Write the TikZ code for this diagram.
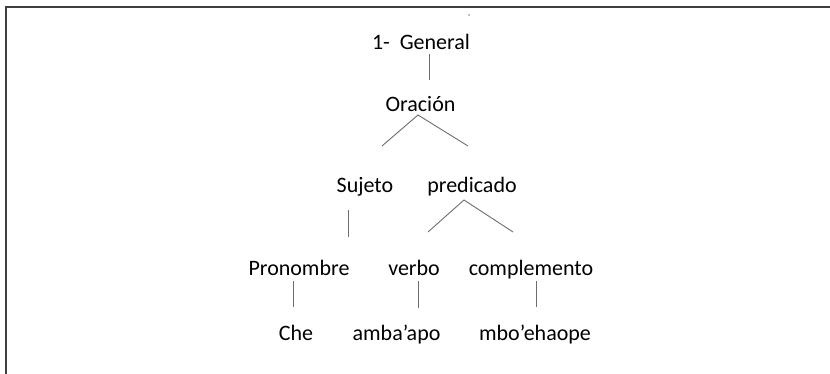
\documentclass[tikz,border=0pt]{standalone}
\usepackage{fontspec}
\setmainfont{Carlito}
\usepackage{tikz}
\usetikzlibrary{calc,positioning}
\newfontfamily\treefont{Carlito}

\begin{document}
\begin{tikzpicture}[x=1pt,y=-1pt,
  word/.style={anchor=base,inner sep=0pt,font=\treefont\fontsize{22}{26}\selectfont},
  branch/.style={line width=0.9pt,gray!85!black}]
\useasboundingbox (0,0) rectangle (830,374);
% frame
\draw[line width=1.6pt,black!75] (6,374) -- (6,7) -- (830,7);
\fill[gray] (469,15) circle (0.8);
% words
\node[word] (gen) at (421,50) {1-~~General};
\node[word] (orac) at (420.5,112) {Oración};
\node[word] (suj) at (365,193) {Sujeto};
\node[word] (pred) at (472,193) {predicado};
\node[word] (pron) at (299,275) {Pronombre};
\node[word] (verb) at (414,275) {verbo};
\node[word] (comp) at (531,275) {complemento};
\node[word] (che) at (296,340) {Che};
\node[word] (amba) at (396.5,340) {amba’apo};
\node[word] (mbo) at (535,340) {mbo’ehaope};
% branch ends
\coordinate (G1) at (429,54);   \coordinate (G2) at (429,80);
\coordinate (O) at (418,115);   \coordinate (OL) at (382,146); \coordinate (OR) at (468,146);
\coordinate (S1) at (348,210);  \coordinate (S2) at (348,237);
\coordinate (P) at (464,200);   \coordinate (PL) at (428,232); \coordinate (PR) at (513,232);
\coordinate (N1) at (293,281);  \coordinate (N2) at (293,307);
\coordinate (V1) at (418,281);  \coordinate (V2) at (418,308);
\coordinate (C1) at (536,281);  \coordinate (C2) at (536,307);
\draw[branch] (G1) -- (G2);
\draw[branch] (OL) -- (O) -- (OR);
\draw[branch] (S1) -- (S2);
\draw[branch] (PL) -- (P) -- (PR);
\draw[branch] (N1) -- (N2);
\draw[branch] (V1) -- (V2);
\draw[branch] (C1) -- (C2);
\end{tikzpicture}
\end{document}
